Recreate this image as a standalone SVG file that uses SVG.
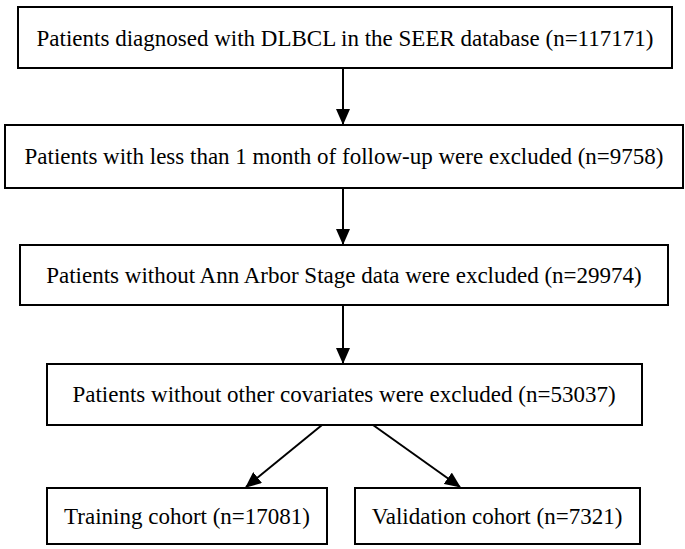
<svg xmlns="http://www.w3.org/2000/svg" width="685" height="549" viewBox="0 0 685 549">
<style>
rect{fill:#fff;stroke:#000;stroke-width:2}
text{font-size:23px;text-anchor:middle;fill:#000}
line{stroke:#000;stroke-width:2}
</style>
<defs><marker id="a" markerWidth="16" markerHeight="14" refX="15" refY="7" orient="auto" markerUnits="userSpaceOnUse"><path d="M0,0L16,7L0,14z" fill="#000"/></marker></defs>
<rect width="685" height="549" style="stroke:none"/>
<g font-family="'Liberation Serif', 'Times New Roman', 'DejaVu Serif', serif">
<g id="n1"><rect x="18" y="7" width="654" height="61"/><text x="345" y="46">Patients diagnosed with DLBCL in the SEER database (n=117171)</text></g>
<g id="n2"><rect x="5" y="125" width="678" height="63"/><text x="344" y="164">Patients with less than 1 month of follow-up were excluded (n=9758)</text></g>
<g id="n3"><rect x="20" y="245" width="648" height="60"/><text x="344" y="283">Patients without Ann Arbor Stage data were excluded (n=29974)</text></g>
<g id="n4"><rect x="47" y="364" width="595" height="61"/><text x="344" y="402">Patients without other covariates were excluded (n=53037)</text></g>
<g id="n5"><rect x="47" y="488" width="280" height="56"/><text x="187" y="524">Training cohort (n=17081)</text></g>
<g id="n6"><rect x="355" y="488" width="285" height="56"/><text x="497" y="524">Validation cohort (n=7321)</text></g>
</g>
<g id="edges">
<line x1="343" y1="68" x2="343" y2="124" marker-end="url(#a)"/>
<line x1="343" y1="188" x2="343" y2="244" marker-end="url(#a)"/>
<line x1="343" y1="305" x2="343" y2="363" marker-end="url(#a)"/>
<line x1="322" y1="425" x2="246" y2="487" marker-end="url(#a)"/>
<line x1="373" y1="425" x2="460" y2="487" marker-end="url(#a)"/>
</g>
</svg>
